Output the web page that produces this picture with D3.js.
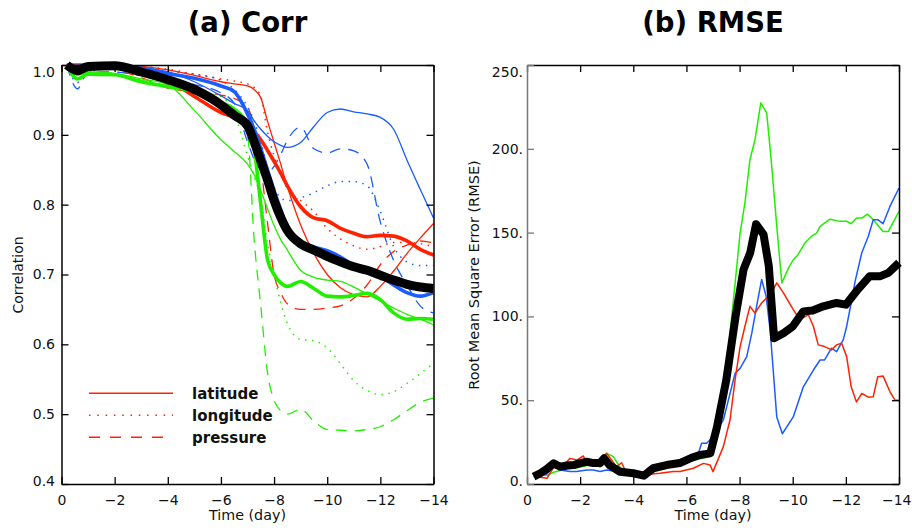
<!DOCTYPE html>
<html>
<head>
<meta charset="utf-8">
<script src="https://cdn.jsdelivr.net/npm/d3@7"></script>
<style>
  body { margin: 0; background: #fff; }
  text { font-family: "DejaVu Sans", sans-serif; }
</style>
</head>
<body>
<svg id="chart" width="912" height="528"></svg>
<script>
// ---- Panel (a): correlation, sampled on a shared set of days ----
const corrDays = [-0.2, -0.6, -1, -2, -3, -4, -5, -6, -6.5, -7, -7.25, -7.5, -7.75, -8, -8.25, -8.5, -9, -9.5, -10, -10.5, -11, -11.5, -12, -12.5, -13, -13.5, -14];

const corrBlack     = [1.0, 0.992, 0.998, 0.999, 0.99, 0.979, 0.965, 0.943, 0.928, 0.913, 0.89, 0.863, 0.836, 0.806, 0.782, 0.763, 0.744, 0.735, 0.726, 0.718, 0.711, 0.706, 0.699, 0.692, 0.686, 0.682, 0.68];
const corrRed       = [1.0, 1.0, 1.0, 0.998, 0.99, 0.978, 0.955, 0.932, 0.925, 0.917, 0.905, 0.893, 0.878, 0.862, 0.845, 0.827, 0.797, 0.781, 0.777, 0.766, 0.759, 0.754, 0.756, 0.755, 0.748, 0.736, 0.728];
const corrBlue      = [1.0, 0.998, 1.0, 1.0, 0.995, 0.988, 0.981, 0.97, 0.962, 0.93, 0.908, 0.88, 0.85, 0.82, 0.793, 0.766, 0.745, 0.739, 0.734, 0.725, 0.713, 0.704, 0.697, 0.685, 0.674, 0.669, 0.674];
const corrGreen     = [1.0, 0.98, 0.987, 0.986, 0.976, 0.969, 0.962, 0.946, 0.937, 0.912, 0.88, 0.80, 0.722, 0.70, 0.688, 0.683, 0.69, 0.68, 0.669, 0.668, 0.67, 0.673, 0.664, 0.645, 0.636, 0.637, 0.636];

const corrRedLat    = [1.0, 1.0, 1.0, 1.0, 0.998, 0.993, 0.985, 0.976, 0.973, 0.97, 0.965, 0.953, 0.92, 0.889, 0.858, 0.826, 0.771, 0.73, 0.70, 0.681, 0.671, 0.668, 0.683, 0.705, 0.73, 0.752, 0.773];
const corrBlueLat   = [1.0, 1.0, 1.0, 1.0, 0.997, 0.99, 0.976, 0.956, 0.945, 0.935, 0.92, 0.908, 0.898, 0.89, 0.885, 0.882, 0.889, 0.912, 0.932, 0.937, 0.933, 0.93, 0.925, 0.908, 0.864, 0.822, 0.781];
const corrGreenLat  = [1.0, 0.985, 0.99, 0.988, 0.98, 0.972, 0.935, 0.893, 0.876, 0.858, 0.843, 0.82, 0.795, 0.77, 0.75, 0.735, 0.706, 0.696, 0.692, 0.69, 0.682, 0.672, 0.662, 0.652, 0.643, 0.636, 0.628];

const corrRedLon    = [1.0, 1.0, 1.0, 1.0, 0.998, 0.994, 0.987, 0.98, 0.977, 0.973, 0.968, 0.955, 0.905, 0.87, 0.845, 0.823, 0.806, 0.79, 0.766, 0.751, 0.741, 0.736, 0.74, 0.746, 0.746, 0.744, 0.74];
const corrBlueLon   = [1.0, 0.975, 0.99, 0.995, 0.992, 0.99, 0.987, 0.978, 0.965, 0.94, 0.92, 0.89, 0.855, 0.825, 0.81, 0.806, 0.81, 0.817, 0.827, 0.833, 0.833, 0.827, 0.79, 0.74, 0.718, 0.713, 0.713];
const corrGreenLon  = [1.0, 0.985, 0.99, 0.988, 0.978, 0.97, 0.962, 0.955, 0.93, 0.87, 0.84, 0.81, 0.745, 0.70, 0.66, 0.63, 0.607, 0.605, 0.595, 0.572, 0.548, 0.534, 0.528, 0.532, 0.544, 0.558, 0.573];

const corrRedPres   = [1.0, 0.998, 0.998, 0.993, 0.982, 0.967, 0.962, 0.957, 0.952, 0.94, 0.91, 0.855, 0.775, 0.70, 0.674, 0.658, 0.65, 0.65, 0.652, 0.655, 0.666, 0.685, 0.714, 0.733, 0.742, 0.748, 0.745];
const corrBluePres  = [1.0, 0.966, 0.99, 0.99, 0.985, 0.98, 0.972, 0.96, 0.945, 0.89, 0.865, 0.85, 0.845, 0.855, 0.872, 0.892, 0.911, 0.88, 0.874, 0.88, 0.877, 0.858, 0.775, 0.72, 0.685, 0.655, 0.645];
const corrGreenPres = [1.0, 0.985, 0.99, 0.985, 0.978, 0.97, 0.962, 0.948, 0.932, 0.90, 0.75, 0.655, 0.56, 0.52, 0.505, 0.50, 0.507, 0.49, 0.478, 0.477, 0.476, 0.478, 0.482, 0.492, 0.505, 0.517, 0.523];

const corrTicks = [0.4, 0.5, 0.6, 0.7, 0.8, 0.9, 1.0];
const dayTicks = [0, -2, -4, -6, -8, -10, -12, -14];
const legendLabels = ["latitude", "longitude", "pressure"];

// ---- Panel (b): RMSE, [day, value] pairs ----
const rmseRed = [[-0.25,5],[-0.5,4],[-0.75,3.4],[-1,10],[-1.25,9],[-1.62,15.3],[-1.87,14.3],[-2.12,16.7],[-2.31,11.3],[-2.5,13],[-2.75,14.3],[-3,18.3],[-3.37,10.3],[-3.56,12.7],[-3.75,6.4],[-4.25,5.4],[-5,6.4],[-5.5,7.4],[-5.76,7.4],[-6.26,9.4],[-6.64,12.3],[-6.89,11.3],[-7,7.4],[-7.39,22.3],[-7.64,38.2],[-7.83,62],[-8.02,82],[-8.2,94],[-8.39,106],[-8.58,102],[-8.83,108],[-9.2,114],[-9.4,120],[-9.65,114],[-10.02,104],[-10.27,98],[-10.59,101],[-10.78,94],[-10.96,83],[-11.2,82],[-11.46,80],[-11.65,83],[-11.84,84],[-12.03,76],[-12.2,58],[-12.4,49],[-12.6,54],[-12.85,51.8],[-13.03,52],[-13.2,64],[-13.4,64.5],[-13.66,55],[-13.85,50],[-14,50]];
const rmseBlue = [[-0.25,6],[-0.5,5],[-0.75,6],[-1.12,13.3],[-1.24,8.4],[-1.62,7.4],[-1.87,7.4],[-2.25,8.4],[-2.5,8.4],[-2.75,7.4],[-3,8.4],[-3.37,7.4],[-3.62,5.4],[-4,5.4],[-4.38,5.4],[-4.75,11.3],[-5.26,12.3],[-5.76,14.3],[-6.39,15.3],[-6.57,24.3],[-6.76,24.3],[-7,28.2],[-7.39,38.2],[-7.64,54],[-7.83,66],[-8.02,69],[-8.27,76],[-8.46,90],[-8.64,106],[-8.83,122],[-9,112],[-9.15,92],[-9.4,40],[-9.61,30],[-10.02,40],[-10.4,58],[-10.78,68],[-11.03,74],[-11.2,74],[-11.46,81],[-11.65,79],[-11.9,86],[-12.03,94],[-12.2,108],[-12.35,121],[-12.6,138],[-12.85,148],[-13.03,157.7],[-13.2,157.7],[-13.4,155.3],[-13.66,165.6],[-14,176.6]];
const rmseGreen = [[-0.25,4],[-0.5,6],[-0.75,5],[-1,7],[-1.25,8],[-1.5,9],[-2,10],[-2.25,11],[-2.5,13],[-2.75,10],[-3,18.3],[-3.25,16.3],[-3.5,10],[-4,6],[-4.4,5],[-4.75,9],[-5.25,11],[-5.75,12],[-6.25,14],[-6.75,16],[-7,19],[-7.25,35],[-7.5,68],[-7.77,110],[-8.02,149.7],[-8.2,167.6],[-8.39,193.5],[-8.58,205.5],[-8.8,227.4],[-9.02,221.4],[-9.2,191.6],[-9.4,153.7],[-9.59,119.9],[-9.84,128.8],[-10.02,133.8],[-10.2,136.8],[-10.46,143.8],[-10.7,147.7],[-10.9,149.7],[-11.03,153.7],[-11.4,158],[-11.78,156.7],[-12.03,156.7],[-12.2,155.3],[-12.4,158.7],[-12.6,158.7],[-12.81,161],[-13.03,157.7],[-13.4,150.7],[-13.6,150.7],[-14,162.7]];
const rmseBlack = [[-0.25,4.4],[-0.5,6.4],[-0.75,9],[-1,12.3],[-1.25,10.3],[-1.5,11],[-1.75,11.3],[-2,12.5],[-2.25,13.3],[-2.5,12.5],[-2.75,12.5],[-2.9,15.3],[-3.1,11.3],[-3.5,7.3],[-4,6.4],[-4.4,5],[-4.75,9.4],[-5.25,11.3],[-5.75,12.5],[-6.25,16],[-6.5,17.3],[-6.9,18.3],[-7.15,34],[-7.5,62],[-7.85,100],[-8.15,128],[-8.4,138],[-8.62,155],[-8.9,149],[-9.1,130],[-9.3,87],[-9.65,90],[-10,94],[-10.4,103],[-10.75,103.5],[-11.15,106],[-11.65,108],[-12,107],[-12.45,116],[-12.9,124],[-13.3,124],[-13.6,126],[-14,132]];
const rmseTicks = [0, 50, 100, 150, 200, 250];

const RED = "#ff2200", BLUE = "#1a5cff", GREEN = "#22ee00";

const svg = d3.select("#chart");

// Draws the box, inward ticks on all four sides, and the labels
function drawFrame(x, y, yTicks, yFmt, yPad, leftColor) {
  const [x0, x1] = x.range();
  const [yb, yt] = y.range();
  const g = svg.append("g");

  const bottom = g.append("g").attr("transform", `translate(0,${yb})`)
    .call(d3.axisBottom(x).tickValues(dayTicks).tickSize(-7).tickSizeOuter(0).tickPadding(11)
      .tickFormat(d3.format("d")));
  g.append("g").attr("transform", `translate(0,${yt})`)
    .call(d3.axisTop(x).tickValues(dayTicks).tickSize(-7).tickSizeOuter(0).tickFormat(""));
  const left = g.append("g").attr("transform", `translate(${x0},0)`)
    .call(d3.axisLeft(y).tickValues(yTicks).tickSize(-7).tickSizeOuter(0).tickPadding(yPad).tickFormat(yFmt));
  g.append("g").attr("transform", `translate(${x1},0)`)
    .call(d3.axisRight(y).tickValues(yTicks).tickSize(-7).tickSizeOuter(0).tickFormat(""));

  g.selectAll(".domain").attr("stroke", "#000").attr("stroke-width", 1.5);
  g.selectAll(".tick line").attr("stroke", "#000").attr("stroke-width", 1.3);
  left.select(".domain").attr("stroke", leftColor);
  left.selectAll(".tick line").attr("stroke", leftColor);
  g.selectAll(".tick text").attr("font-family", "DejaVu Sans").attr("font-size", 14).attr("fill", "#111");

  // end labels sit inside the box, as in the original
  const lo = d3.min(yTicks), hi = d3.max(yTicks);
  left.selectAll(".tick text").attr("dy", d => d === hi ? "11px" : d === lo ? "1px" : "0.32em");
  return bottom;
}

// ---- Panel (a) ----
const xa = d3.scaleLinear().domain([0, -14]).range([61.5, 433.5]);
const ya = d3.scaleLinear().domain([0.4, 1.0]).range([484, 65]);

const lineA = d3.line()
  .x((d, i) => xa(corrDays[i]))
  .y(d => ya(d))
  .curve(d3.curveMonotoneX);

const corrSeries = [
  { v: corrRedPres,   c: RED,   w: 1.3, dash: "11,8" },
  { v: corrBluePres,  c: BLUE,  w: 1.3, dash: "11,8" },
  { v: corrGreenPres, c: GREEN, w: 1.3, dash: "11,8" },
  { v: corrRedLon,    c: RED,   w: 1.5, dash: "1.5,5.5" },
  { v: corrBlueLon,   c: BLUE,  w: 1.5, dash: "1.5,5.5" },
  { v: corrGreenLon,  c: GREEN, w: 1.5, dash: "1.5,5.5" },
  { v: corrRedLat,    c: RED,   w: 1.3, dash: null },
  { v: corrBlueLat,   c: BLUE,  w: 1.3, dash: null },
  { v: corrGreenLat,  c: GREEN, w: 1.3, dash: null },
  { v: corrRed,       c: RED,   w: 3.6, dash: null },
  { v: corrBlue,      c: BLUE,  w: 3.6, dash: null },
  { v: corrGreen,     c: GREEN, w: 3.6, dash: null },
  { v: corrBlack,     c: "#000", w: 9, dash: null }
];

const plotA = svg.append("g");
corrSeries.forEach(s => {
  plotA.append("path")
    .attr("d", lineA(s.v))
    .attr("fill", "none")
    .attr("stroke", s.c)
    .attr("stroke-width", s.w)
    .attr("stroke-dasharray", s.dash)
    .attr("stroke-linejoin", "round");
});

drawFrame(xa, ya, corrTicks, d3.format(".1f"), 6.5, "#000");

// legend
const legendDash = [null, "1.5,6.8", "11,10"];
legendLabels.forEach((lab, i) => {
  const yy = 393.3 + i * 22;
  svg.append("line").attr("x1", 89).attr("x2", 173).attr("y1", yy).attr("y2", yy)
    .attr("stroke", RED).attr("stroke-width", 1.4).attr("stroke-dasharray", legendDash[i]);
  svg.append("text").attr("x", 192).attr("y", yy + 5.5)
    .attr("font-family", "Liberation Sans, Arial, sans-serif").attr("font-weight", "bold")
    .attr("font-size", 15).attr("fill", "#111").text(lab);
});

// ---- Panel (b) ----
const xb = d3.scaleLinear().domain([0, -14]).range([527, 899]);
const yb = d3.scaleLinear().domain([0, 250]).range([484, 65]);

const lineB = d3.line().x(d => xb(d[0])).y(d => yb(d[1]));

const rmseSeries = [
  { v: rmseGreen, c: GREEN, w: 1.5 },
  { v: rmseBlue,  c: BLUE,  w: 1.5 },
  { v: rmseRed,   c: RED,   w: 1.5 },
  { v: rmseBlack, c: "#000", w: 8 }
];
const plotB = svg.append("g");
rmseSeries.forEach(s => {
  plotB.append("path")
    .attr("d", lineB(s.v))
    .attr("fill", "none")
    .attr("stroke", s.c)
    .attr("stroke-width", s.w)
    .attr("stroke-linejoin", "round");
});

const bottomB = drawFrame(xb, yb, rmseTicks, d => d + ".", 4, "#777");
// the last day label would run off the page; pin it to the right edge
bottomB.selectAll(".tick text").filter(d => d === -14)
  .attr("text-anchor", "end").attr("dx", "12px");

// ---- titles and axis names ----
const titleFont = "Liberation Sans, Arial, sans-serif";
svg.append("text").attr("x", 247.5).attr("y", 32).attr("text-anchor", "middle")
  .attr("font-family", titleFont).attr("font-weight", "bold").attr("font-size", 27.5).text("(a) Corr");
svg.append("text").attr("x", 713).attr("y", 32).attr("text-anchor", "middle")
  .attr("font-family", titleFont).attr("font-weight", "bold").attr("font-size", 27.5).text("(b) RMSE");

[247.5, 713].forEach(cx => {
  svg.append("text").attr("x", cx).attr("y", 520).attr("text-anchor", "middle")
    .attr("font-size", 14.3).attr("fill", "#111").text("Time (day)");
});
svg.append("text").attr("transform", "translate(23,275) rotate(-90)").attr("text-anchor", "middle")
  .attr("font-size", 14).attr("fill", "#111").text("Correlation");
svg.append("text").attr("transform", "translate(478.5,275) rotate(-90)").attr("text-anchor", "middle")
  .attr("font-size", 14.5).attr("fill", "#111").text("Root Mean Square Error (RMSE)");
</script>
</body>
</html>
